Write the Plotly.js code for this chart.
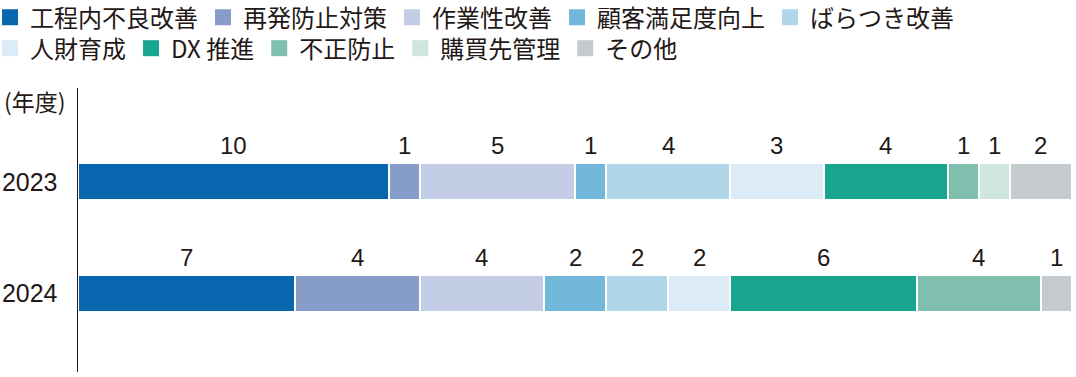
<!DOCTYPE html>
<html><head><meta charset="utf-8">
<script src="https://cdn.plot.ly/plotly-3.0.1.min.js"></script>
<style>html,body{margin:0;padding:0;background:#fff}#chart{width:1076px;height:377px}</style>
</head><body><div id="chart"></div>
<script>
var years = ['2023', '2024'];
var categories = ['工程内不良改善','再発防止対策','作業性改善','顧客満足度向上','ばらつき改善','人財育成','DX 推進','不正防止','購買先管理','その他'];
var v2023 = [10, 1, 5, 1, 4, 3, 4, 1, 1, 2];
var v2024 = [7, 4, 4, 2, 2, 2, 6, 4, 0, 1];
var colors = ['#0766AD','#869DC9','#C3CDE6','#72B8DA','#B2D6E9','#DDEBF6','#17A58F','#80BFAE','#CFE6DD','#C5CACF'];
var legendRow = [1, 1, 1, 1, 1, 2, 2, 2, 2, 2];

var textColor = '#231815';
var jp = '"Noto Sans CJK JP", "Noto Sans", sans-serif';
var num = '"Liberation Sans", Arial, sans-serif';

var traces = [];
var annotations = [];
var cum = [0, 0];
categories.forEach(function (name, i) {
  var vals = [v2023[i], v2024[i]];
  traces.push({
    type: 'bar', orientation: 'h', name: name,
    x: vals, y: years,
    marker: { color: colors[i], line: { color: '#ffffff', width: 2 } },
    width: 0.33, showlegend: false, hoverinfo: 'x+name'
  });
  traces.push({
    type: 'scatter', mode: 'markers', name: name,
    x: [null], y: [null],
    legend: legendRow[i] === 1 ? 'legend' : 'legend2',
    marker: { symbol: 'square', size: 17, color: colors[i] },
    showlegend: true, hoverinfo: 'skip'
  });
  vals.forEach(function (v, k) {
    if (v > 0) {
      annotations.push({
        x: cum[k] + v / 2, y: k, xref: 'x', yref: 'y',
        text: String(v), showarrow: false, yshift: 36,
        font: { family: num, size: 24, color: textColor }
      });
    }
    cum[k] += v;
  });
});

annotations.push({
  xref: 'paper', yref: 'paper', x: 0, y: 1, xshift: -76, yshift: -13,
  xanchor: 'left', yanchor: 'middle', showarrow: false,
  text: '(年度)', font: { family: jp, size: 23, color: textColor }
});

function legendStyle(y) {
  return {
    orientation: 'h', xref: 'paper', yref: 'paper',
    x: -0.0885, y: y, xanchor: 'left', yanchor: 'top',
    font: { family: jp, size: 24, color: textColor },
    itemwidth: 30, traceorder: 'normal',
    bgcolor: 'rgba(0,0,0,0)'
  };
}

var layout = {
  width: 1076, height: 377,
  margin: { l: 78, r: 4, t: 88, b: 5, autoexpand: false },
  paper_bgcolor: '#ffffff', plot_bgcolor: '#ffffff',
  barmode: 'stack', bargap: 0,
  showlegend: true,
  legend: legendStyle(1.327),
  legend2: legendStyle(1.218),
  xaxis: {
    range: [0, 32], visible: false, fixedrange: true
  },
  yaxis: {
    type: 'category', range: [1.70, -0.84],
    showline: true, linecolor: textColor, linewidth: 1.5,
    showgrid: false, zeroline: false, ticks: '',
    ticklabelstandoff: 14,
    tickfont: { family: num, size: 25, color: textColor },
    fixedrange: true
  },
  annotations: annotations
};

Plotly.newPlot('chart', traces, layout, { displayModeBar: false, staticPlot: true });
</script>
</body></html>
